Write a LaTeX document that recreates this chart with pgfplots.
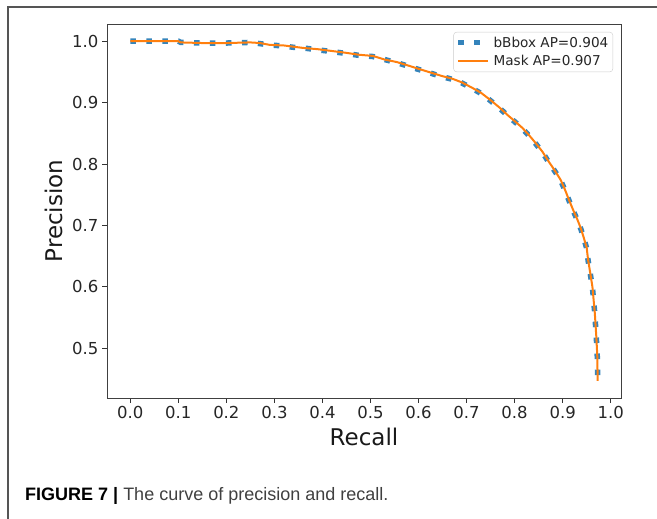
\documentclass[border=0pt]{standalone}
\usepackage{pgfplots}
\pgfplotsset{compat=1.18}
\usepackage{fontspec}
\setmainfont{DejaVu Sans}
\newfontfamily\capfont{Liberation Sans}
\definecolor{mplBlue}{HTML}{1F77B4}
\definecolor{mplOrange}{HTML}{FF7F0E}
\definecolor{frameGray}{HTML}{555555}

% recall / precision
\pgfplotstableread{
r p
0.000 1.000
0.050 1.000
0.100 1.000
0.105 0.998
0.150 0.997
0.200 0.997
0.250 0.998
0.270 0.997
0.290 0.994
0.320 0.993
0.340 0.991
0.360 0.989
0.390 0.987
0.420 0.984
0.450 0.981
0.475 0.978
0.505 0.976
0.530 0.970
0.555 0.966
0.580 0.960
0.600 0.955
0.625 0.949
0.650 0.943
0.670 0.939
0.690 0.933
0.712 0.924
0.730 0.916
0.750 0.904
0.770 0.891
0.785 0.880
0.800 0.870
0.816 0.859
0.830 0.847
0.844 0.834
0.858 0.820
0.871 0.804
0.884 0.789
0.896 0.774
0.905 0.758
0.913 0.742
0.922 0.725
0.931 0.709
0.938 0.695
0.944 0.680
0.950 0.664
0.953 0.644
0.958 0.620
0.962 0.600
0.967 0.557
0.970 0.520
0.972 0.490
0.973 0.447
}\maskdata

\pgfplotstableread{
r p
0.000 1.000
0.050 1.000
0.100 1.000
0.105 0.998
0.150 0.997
0.200 0.997
0.250 0.998
0.270 0.996
0.290 0.994
0.320 0.992
0.340 0.990
0.360 0.989
0.390 0.986
0.420 0.983
0.450 0.980
0.475 0.977
0.505 0.975
0.530 0.970
0.555 0.965
0.580 0.959
0.600 0.954
0.625 0.948
0.650 0.942
0.670 0.938
0.690 0.932
0.712 0.923
0.730 0.915
0.750 0.903
0.770 0.890
0.785 0.879
0.800 0.869
0.816 0.858
0.830 0.846
0.844 0.833
0.858 0.819
0.871 0.803
0.884 0.788
0.896 0.773
0.905 0.757
0.913 0.741
0.922 0.724
0.931 0.708
0.938 0.694
0.944 0.679
0.950 0.663
0.953 0.643
0.958 0.619
0.962 0.599
0.967 0.556
0.970 0.519
0.972 0.489
0.973 0.447
}\bboxdata

\begin{document}
\begin{tikzpicture}
\useasboundingbox (0,0) rectangle (657bp,519bp);
% panel frame (top and left edges only)
\draw[frameGray, line width=1.1bp] (8bp,0bp) -- (8bp,512bp) -- (657bp,512bp);

\begin{axis}[
  at={(107bp,121bp)}, anchor=south west,
  scale only axis, width=514bp, height=374bp,
  xmin=-0.0485, xmax=1.0215, ymin=0.419, ymax=1.028,
  xtick={0,0.1,...,1.0}, ytick={0.5,0.6,...,1.0},
  xticklabel style={/pgf/number format/.cd,fixed,fixed zerofill,precision=1},
  yticklabel style={/pgf/number format/.cd,fixed,fixed zerofill,precision=1},
  /pgf/number format/assume math mode=true,
  tick label style={font=\fontsize{16.5bp}{19bp}\selectfont, text=black!85},
  tick align=outside, major tick length=5bp,
  tick style={black!80, line width=0.8bp},
  xtick pos=bottom, ytick pos=left,
  axis line style={black!75, line width=0.9bp},
  xlabel={Recall}, ylabel={Precision},
  every axis x label/.style={at={(axis description cs:0.5,-0.1257)}, anchor=base,
    font=\fontsize{23bp}{26bp}\selectfont, text=black!90},
  every axis y label/.style={at={(axis description cs:-0.0875,0.5)}, rotate=90, anchor=base,
    font=\fontsize{23bp}{26bp}\selectfont, text=black!90},
  legend style={at={(1,1)}, anchor=north east, xshift=-8bp, yshift=-8bp,
    draw=black!20, rounded corners=3bp, fill=white, fill opacity=0.8, text opacity=1,
    font=\fontsize{13.6bp}{16bp}\selectfont, text=black!85,
    inner xsep=2bp, inner ysep=2bp, row sep=2bp,
    nodes={inner sep=2.5bp}},
  legend cell align=left,
  legend image code/.code={\draw[#1] (0bp,0bp) -- (30bp,0bp);},
]
\addplot[mplBlue, line width=5.5bp, dash pattern=on 5.5bp off 10.5bp, opacity=0.9]
  table[x=r, y=p] {\bboxdata};
\addlegendentry{bBbox AP=0.904}
\addplot[mplOrange, line width=2bp] table[x=r, y=p] {\maskdata};
\addlegendentry{Mask AP=0.907}
\end{axis}

\node[anchor=base west, inner sep=0pt, font=\capfont\fontsize{18bp}{21bp}\selectfont]
  at (25bp,19bp) {\textbf{FIGURE 7 |} \textcolor{black!75}{The curve of precision and recall.}};
\end{tikzpicture}
\end{document}
